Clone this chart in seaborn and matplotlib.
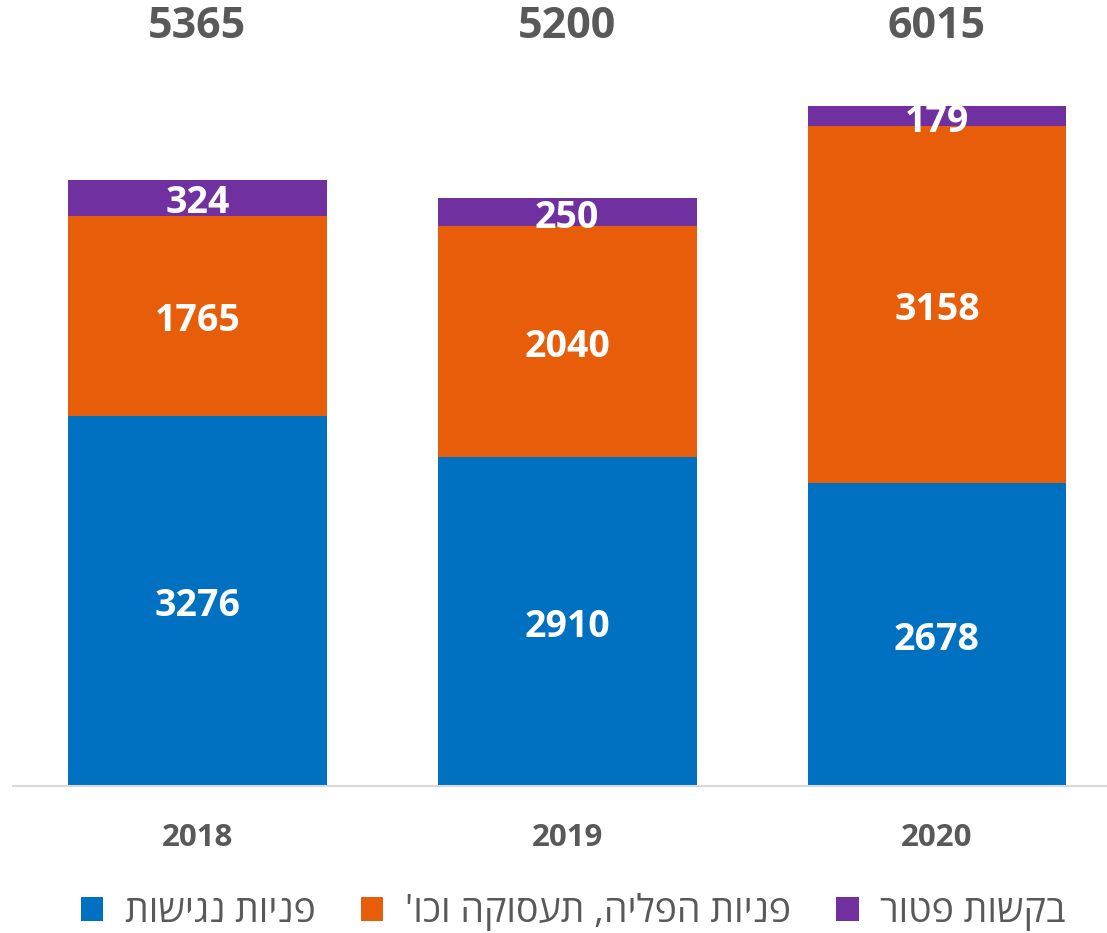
import matplotlib
matplotlib.use("Agg")
import matplotlib.pyplot as plt
from matplotlib.patches import Patch
import seaborn as sns
import pandas as pd
import numpy as np

years = ["2018", "2019", "2020"]
accessibility = [3276, 2910, 2678]
discrimination = [1765, 2040, 3158]
exemption = [324, 250, 179]
totals = [5365, 5200, 6015]
series_names = ["פניות נגישות", "פניות הפליה, תעסוקה וכו'", "בקשות פטור"]
colors = ["#0070C0", "#E85D0A", "#7030A0"]

sns.set_theme(style="white")
plt.rcParams['font.family'] = ['Open Sans', 'DejaVu Sans']

def vis(s):
    # matplotlib has no bidi support: reverse Hebrew for visual order
    return s[::-1]

fig = plt.figure(figsize=(11.07, 9.33), dpi=100)
ax = fig.add_axes([13/1107, 147/933, 1094/1107, 734.8/933])

acc = np.array(accessibility)
dis = np.array(discrimination)
exm = np.array(exemption)
layers = [acc + dis + exm, acc + dis, acc]
layer_colors = [colors[2], colors[1], colors[0]]
for vals, c in zip(layers, layer_colors):
    df = pd.DataFrame({"year": years, "v": vals})
    sns.barplot(data=df, x="year", y="v", color=c, saturation=1, width=0.7,
                ax=ax, edgecolor="none", linewidth=0)

ax.set_xlim(-0.499, 2.46)
ax.set_ylim(0, 6500)
ax.set_xlabel("")
ax.set_ylabel("")
ax.set_yticks([])
for s in ["top", "right", "left"]:
    ax.spines[s].set_visible(False)
ax.spines["bottom"].set_color("#D9D9D9")
ax.spines["bottom"].set_linewidth(1.5)
ax.tick_params(axis="x", length=0, pad=27, labelsize=22.5, labelcolor="#595959")
for lab in ax.get_xticklabels():
    lab.set_fontweight("bold")

for i in range(3):
    segs = [(0, acc[i]), (acc[i], dis[i]), (acc[i] + dis[i], exm[i])]
    for b, h in segs:
        ax.annotate(f"{h}", xy=(i, b + h / 2), xytext=(0, -4),
                    textcoords="offset points", ha="center", va="center",
                    color="white", fontsize=27, fontweight="bold")
    ax.text(i, 6720, f"{totals[i]}", ha="center", va="center", color="#595959",
            fontsize=31, fontweight="bold", clip_on=False)

handles = [Patch(facecolor=c, edgecolor="none") for c in colors]
fig.legend(handles, [vis(n) for n in series_names], loc="center",
           bbox_to_anchor=(0.518, 1 - 912/933), ncol=3, frameon=False,
           fontsize=27, labelcolor="#595959", handlelength=0.6, handleheight=0.6,
           handletextpad=0.58, columnspacing=1.2)

fig.savefig("out.png", dpi=100)
